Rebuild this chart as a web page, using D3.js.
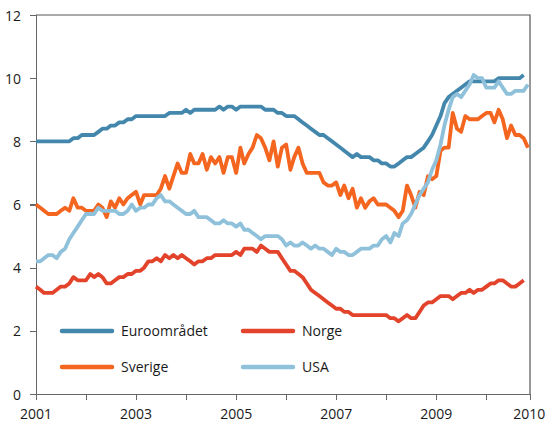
<!DOCTYPE html>
<html>
<head>
<meta charset="utf-8">
<title>Renter</title>
<script src="https://d3js.org/d3.v7.min.js"></script>
<style>
  body { margin: 0; background: #fff; }
  text { font-family: "Open Sans", sans-serif; fill: #1a1a1a; }
  .axis path, .axis line { stroke: #666; stroke-width: 1.2px; shape-rendering: crispEdges; }
  .axis text { font-size: 14px; }
  .legend text { font-size: 14px; }
</style>
</head>
<body>
<div id="chart"></div>
<script>
// monthly values, January 2001 onwards
var euro = [8.0,8.0,8.0,8.0,8.0,8.0,8.0,8.0,8.0,8.1,8.1,8.2,8.2,8.2,8.2,8.3,8.4,8.4,8.5,8.5,
  8.6,8.6,8.7,8.7,8.8,8.8,8.8,8.8,8.8,8.8,8.8,8.8,8.9,8.9,8.9,8.9,9.0,8.9,9.0,9.0,
  9.0,9.0,9.0,9.0,9.1,9.0,9.1,9.1,9.0,9.1,9.1,9.1,9.1,9.1,9.1,9.0,9.0,9.0,8.9,8.9,
  8.8,8.8,8.8,8.7,8.6,8.5,8.4,8.3,8.2,8.2,8.1,8.0,7.9,7.8,7.7,7.6,7.5,7.6,7.5,7.5,
  7.5,7.4,7.4,7.3,7.3,7.2,7.2,7.3,7.4,7.5,7.5,7.6,7.7,7.8,8.0,8.2,8.5,8.8,9.2,9.4,
  9.5,9.6,9.7,9.8,9.9,9.9,9.9,9.9,9.9,9.9,9.9,10.0,10.0,10.0,10.0,10.0,10.0,10.1];

var norge = [3.4,3.3,3.2,3.2,3.2,3.3,3.4,3.4,3.5,3.7,3.6,3.6,3.6,3.8,3.7,3.8,3.7,3.5,3.5,3.6,
  3.7,3.7,3.8,3.8,3.9,3.9,4.0,4.2,4.2,4.3,4.2,4.4,4.3,4.4,4.3,4.4,4.3,4.2,4.1,4.2,
  4.2,4.3,4.3,4.4,4.4,4.4,4.4,4.4,4.5,4.4,4.6,4.6,4.6,4.5,4.7,4.6,4.5,4.5,4.5,4.3,
  4.1,3.9,3.9,3.8,3.7,3.5,3.3,3.2,3.1,3.0,2.9,2.8,2.7,2.7,2.6,2.6,2.5,2.5,2.5,2.5,
  2.5,2.5,2.5,2.5,2.5,2.4,2.4,2.3,2.4,2.5,2.4,2.4,2.6,2.8,2.9,2.9,3.0,3.1,3.1,3.1,
  3.0,3.1,3.2,3.2,3.3,3.2,3.3,3.3,3.4,3.5,3.5,3.6,3.6,3.5,3.4,3.4,3.5,3.6];

var sverige = [6.0,5.9,5.8,5.7,5.7,5.7,5.8,5.9,5.8,6.2,5.9,5.9,5.8,5.8,5.8,6.0,5.9,5.6,6.1,5.9,
  6.2,6.0,6.2,6.3,6.4,6.0,6.3,6.3,6.3,6.3,6.5,6.9,6.5,6.9,7.3,7.0,7.0,7.6,7.3,7.3,
  7.6,7.1,7.5,7.3,7.5,7.0,7.5,7.5,7.0,7.8,7.3,7.6,7.8,8.2,8.1,7.8,7.4,8.0,7.2,7.8,
  7.9,7.1,7.5,7.8,7.3,7.0,7.0,7.0,7.0,6.7,6.6,6.6,6.7,6.3,6.6,6.2,6.5,5.9,6.2,5.9,
  6.1,6.2,6.0,6.0,6.0,5.9,5.8,5.6,5.8,6.6,6.3,5.9,6.4,6.3,6.9,6.8,6.9,7.7,7.8,7.8,
  8.9,8.4,8.3,8.8,8.7,8.7,8.7,8.8,8.9,8.9,8.6,9.0,8.7,8.1,8.5,8.2,8.2,8.1,7.8];

var usa = [4.2,4.2,4.3,4.4,4.4,4.3,4.5,4.6,4.9,5.1,5.3,5.5,5.7,5.7,5.7,5.9,5.8,5.8,5.8,5.8,
  5.7,5.7,5.8,6.0,5.8,5.9,5.9,6.0,6.0,6.2,6.3,6.1,6.1,6.0,5.9,5.8,5.7,5.7,5.8,5.6,
  5.6,5.6,5.5,5.4,5.4,5.5,5.4,5.4,5.3,5.4,5.2,5.2,5.1,5.0,4.9,5.0,5.0,5.0,5.0,4.9,
  4.7,4.8,4.7,4.7,4.8,4.7,4.6,4.7,4.6,4.6,4.5,4.4,4.6,4.5,4.5,4.4,4.4,4.5,4.6,4.6,
  4.6,4.7,4.7,4.9,5.0,4.8,5.1,5.0,5.4,5.5,5.7,6.0,6.3,6.5,6.7,7.1,7.4,7.9,8.5,9.0,
  9.4,9.5,9.4,9.6,9.8,10.1,10.0,10.0,9.7,9.7,9.7,9.9,9.7,9.5,9.5,9.6,9.6,9.6,9.8];

var seriesNames = ["Euroområdet", "Norge", "Sverige", "USA"];
var seriesColors = ["#4387ad", "#e2432a", "#f4661f", "#8fc1db"];
var seriesValues = [euro, norge, sverige, usa];

var yTicks = [0, 2, 4, 6, 8, 10, 12];
var tickYears = [2001, 2002, 2003, 2004, 2005, 2006, 2007, 2008, 2009, 2010];
var labelYears = [2001, 2003, 2005, 2007, 2009];

var width = 546, height = 422;
var margin = { top: 15, right: 16, bottom: 28, left: 36 };

var svg = d3.select("#chart").append("svg")
    .attr("width", width)
    .attr("height", height);

var x = d3.scaleTime()
    .domain([new Date(2001, 0, 1), new Date(2010, 10, 16)])
    .range([margin.left, width - margin.right]);

var y = d3.scaleLinear()
    .domain([0, 12])
    .range([height - margin.bottom, margin.top]);

// frame top + right
svg.append("path")
    .attr("d", "M" + x.range()[0] + "," + y(12) + "H" + x.range()[1] + "V" + y(0))
    .attr("fill", "none")
    .attr("stroke", "#555")
    .attr("stroke-width", 1.2);

svg.append("g")
    .attr("class", "axis")
    .attr("transform", "translate(" + margin.left + ",0)")
    .call(d3.axisLeft(y).tickValues(yTicks).tickSize(6).tickPadding(9).tickFormat(d3.format("d")))
    .selectAll("text").attr("dy", "0.36em");

var xAxis = svg.append("g")
    .attr("class", "axis")
    .attr("transform", "translate(0," + y(0) + ")")
    .call(d3.axisBottom(x)
      .tickValues(tickYears.map(function(d) { return new Date(d, 0, 1); }))
      .tickSize(6)
      .tickFormat(""));

// year labels; the last one sits at the end of the axis
var labels = labelYears.map(function(d) { return { text: String(d), date: new Date(d, 0, 1) }; });
labels.push({ text: "2010", date: new Date(2010, 10, 10) });

svg.append("g").selectAll("text")
    .data(labels)
    .enter().append("text")
    .attr("x", function(d) { return x(d.date); })
    .attr("y", 419)
    .attr("text-anchor", "middle")
    .style("font-size", "14px")
    .text(function(d) { return d.text; });

var line = d3.line()
    .x(function(d, i) { return x(new Date(2001, i, 1)); })
    .y(function(d) { return y(d); });

svg.append("g").selectAll("path")
    .data(seriesValues)
    .enter().append("path")
    .attr("d", line)
    .attr("fill", "none")
    .attr("stroke", function(d, i) { return seriesColors[i]; })
    .attr("stroke-width", 3.8)
    .attr("stroke-linejoin", "round");

// legend
var legendPos = [[62, 331], [243, 331], [62, 367], [243, 367]];
var legend = svg.append("g").attr("class", "legend")
    .selectAll("g")
    .data(seriesNames)
    .enter().append("g")
    .attr("transform", function(d, i) { return "translate(" + legendPos[i][0] + "," + legendPos[i][1] + ")"; });

legend.append("line")
    .attr("x1", 0).attr("x2", 50)
    .attr("stroke", function(d, i) { return seriesColors[i]; })
    .attr("stroke-width", 4.5)
    .attr("stroke-linecap", "round");

legend.append("text")
    .attr("x", 59)
    .attr("dy", "0.36em")
    .text(function(d) { return d; });
</script>
</body>
</html>
